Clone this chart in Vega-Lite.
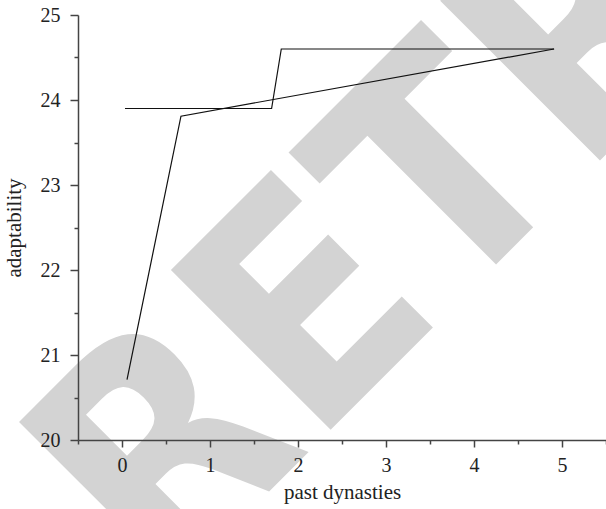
{
  "$schema": "https://vega.github.io/schema/vega-lite/v6.json",
  "width": 528,
  "height": 425,
  "autosize": {"type": "none"},
  "padding": {"left": 78, "top": 15, "right": 0, "bottom": 69},
  "background": "white",
  "config": {"view": {"stroke": null}, "font": "'Liberation Serif', 'Times New Roman', 'DejaVu Serif', serif"},
  "datasets": {
    "series": [
      {"series": "A", "i": 1, "dynasties": 0.057, "adaptability": 20.71},
      {"series": "A", "i": 2, "dynasties": 0.67, "adaptability": 23.81},
      {"series": "A", "i": 3, "dynasties": 4.91, "adaptability": 24.6},
      {"series": "B", "i": 1, "dynasties": 0.034, "adaptability": 23.9},
      {"series": "B", "i": 2, "dynasties": 1.70, "adaptability": 23.9},
      {"series": "B", "i": 3, "dynasties": 1.81, "adaptability": 24.6},
      {"series": "B", "i": 4, "dynasties": 4.91, "adaptability": 24.6}
    ],
    "watermark": [{"text": "RETRACTED", "x": 0.44, "y": 18.12}]
  },
  "layer": [
    {
      "data": {"name": "watermark"},
      "mark": {"type": "text", "font": "'DejaVu Sans Condensed', 'DejaVu Sans', sans-serif", "fontWeight": "bold", "fontSize": 310, "angle": -45, "align": "left", "baseline": "alphabetic", "color": "#d3d3d3"},
      "encoding": {
        "x": {"field": "x", "type": "quantitative", "scale": {"domain": [-0.5, 5.5], "nice": false, "zero": false}},
        "y": {"field": "y", "type": "quantitative", "scale": {"domain": [20, 25], "nice": false, "zero": false}},
        "text": {"field": "text"}
      }
    },
    {
      "data": {"name": "series"},
      "mark": {"type": "line", "color": "#111111", "strokeWidth": 1.2},
      "encoding": {
        "x": {
          "field": "dynasties", "type": "quantitative",
          "scale": {"domain": [-0.5, 5.5], "nice": false, "zero": false},
          "axis": {
            "title": "past dynasties",
            "values": [-0.5, 0, 0.5, 1, 1.5, 2, 2.5, 3, 3.5, 4, 4.5, 5, 5.5],
            "format": ".0f",
            "labelExpr": "datum.value % 1 === 0 ? datum.label : ''",
            "tickSize": {"condition": {"test": "datum.value % 1 === 0", "value": 7}, "value": 4},
            "grid": false, "labelFlush": false,
            "domainColor": "#444444", "domainWidth": 1.5,
            "tickColor": "#444444", "tickWidth": 1.5,
            "labelFont": "'Liberation Serif', 'Times New Roman', 'DejaVu Serif', serif", "labelFontSize": 20, "labelColor": "#222222", "labelPadding": 8,
            "titleFont": "'Liberation Serif', 'Times New Roman', 'DejaVu Serif', serif", "titleFontSize": 21, "titleFontWeight": "normal", "titleColor": "#222222", "titlePadding": 6,
            "zindex": 1
          }
        },
        "y": {
          "field": "adaptability", "type": "quantitative",
          "scale": {"domain": [20, 25], "nice": false, "zero": false},
          "axis": {
            "title": "adaptability",
            "values": [20, 20.5, 21, 21.5, 22, 22.5, 23, 23.5, 24, 24.5, 25],
            "format": ".0f",
            "labelExpr": "datum.value % 1 === 0 ? datum.label : ''",
            "tickSize": {"condition": {"test": "datum.value % 1 === 0", "value": 8}, "value": 4},
            "grid": false, "labelFlush": false,
            "domainColor": "#444444", "domainWidth": 1.5,
            "tickColor": "#444444", "tickWidth": 1.5,
            "labelFont": "'Liberation Serif', 'Times New Roman', 'DejaVu Serif', serif", "labelFontSize": 20, "labelColor": "#222222", "labelPadding": 10,
            "titleFont": "'Liberation Serif', 'Times New Roman', 'DejaVu Serif', serif", "titleFontSize": 21, "titleFontWeight": "normal", "titleColor": "#222222", "titlePadding": 16,
            "zindex": 1
          }
        },
        "detail": {"field": "series"},
        "order": {"field": "i", "type": "quantitative"}
      }
    },
    {
      "mark": {"type": "rule", "color": "#444444", "strokeWidth": 1.5},
      "encoding": {"y": {"datum": 25}}
    }
  ]
}
